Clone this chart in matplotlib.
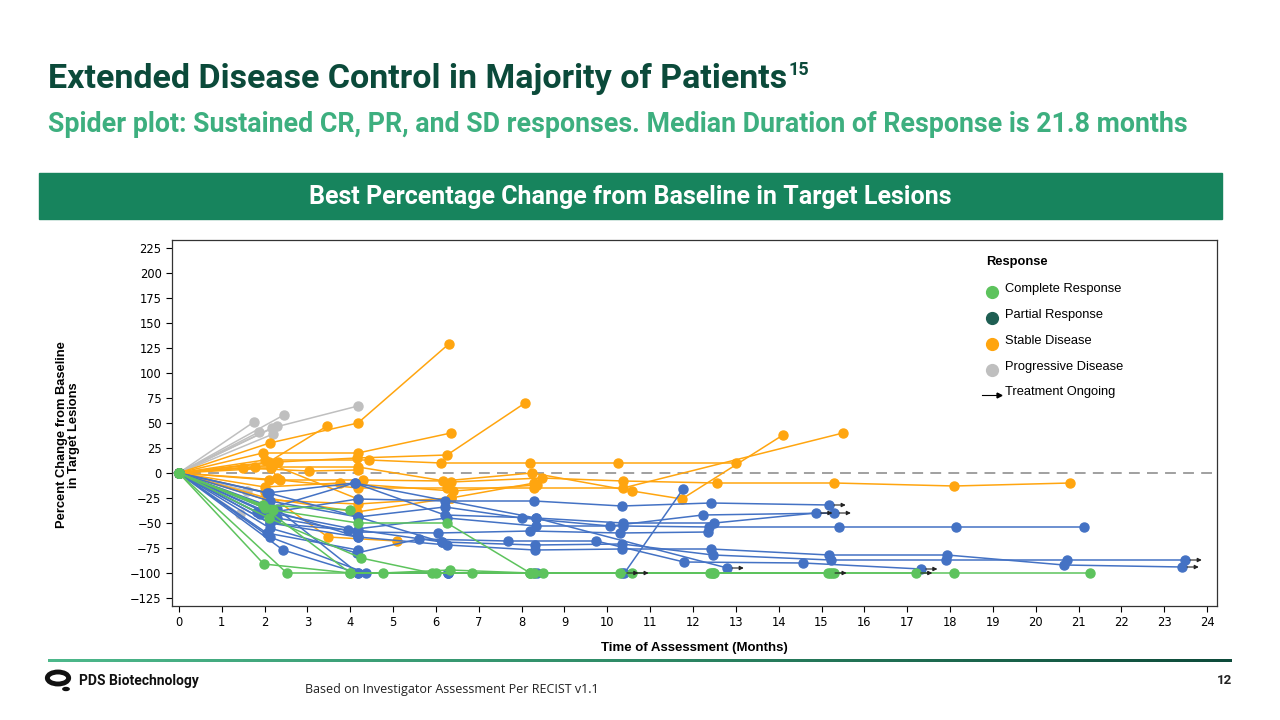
import matplotlib
matplotlib.use("Agg")
import matplotlib.pyplot as plt
import numpy as np
from matplotlib.patches import Rectangle, Circle
from matplotlib.lines import Line2D
from matplotlib.colors import LinearSegmentedColormap

# ---- data (months, % change) ----
cr_t = [[0, 1.98, 4.0, 6.84, 8.5, 10.58],
        [0, 2.52, 4.76, 6.33, 8.2, 12.47, 15.2],
        [0, 1.96, 4.0],
        [0, 2.2, 4.18, 6.26, 8.2, 10.3, 12.5, 15.3],
        [0, 2.1, 4.25, 5.9, 8.3, 12.45, 15.15, 17.2],
        [0, 2.0, 4.0, 6.0, 8.2, 12.4, 15.25, 18.1, 21.27]]
cr_v = [[0, -91, -100, -100, -100, -100],
        [0, -100, -100, -97, -100, -100, -100],
        [0, -32, -37],
        [0, -37, -50, -50, -100, -100, -100, -100],
        [0, -45, -85, -100, -100, -100, -100, -100],
        [0, -35, -100, -100, -100, -100, -100, -100, -100]]
cr_on = [True, True, False, False, True, False]

pr_t = [[0, 2.05, 4.18, 6.14, 8.31, 10.34, 12.47, 15.22, 17.9, 20.73, 23.49],
        [0, 2.12, 4.18, 6.26, 8.31, 10.34, 12.42, 15.18, 17.93, 20.66, 23.42],
        [0, 2.12, 4.15, 5.6, 7.68, 9.74, 11.79, 14.57, 17.32],
        [0, 1.89, 4.18, 6.21, 8.29, 10.34, 12.42, 15.18],
        [0, 2.1, 4.18, 6.21, 8.0, 10.06, 12.23, 15.3],
        [0, 1.82, 4.1, 6.21, 8.33, 10.37, 12.5, 14.87],
        [0, 2.12, 3.95, 6.26, 8.33, 10.37, 12.38, 15.4, 18.14, 21.13],
        [0, 2.43, 4.18, 6.28, 8.3, 10.4, 11.77],
        [0, 2.12, 4.37, 6.28, 8.35, 10.34],
        [0, 2.29, 4.15, 6.05, 8.2, 10.3, 12.36],
        [0, 2.05, 4.1, 8.33, 12.8],
        [0, 2.0, 4.18],
        [0, 2.12, 4.18, 6.14],
        [0, 2.05, 4.18],
        [0, 2.29, 4.18, 6.28]]
pr_v = [[0, -39, -57, -69, -72, -71, -82, -87, -87, -87, -87],
        [0, -50, -64, -72, -77, -76, -76, -82, -82, -92, -94],
        [0, -55, -80, -66, -68, -68, -89, -90, -96],
        [0, -41, -26, -28, -28, -33, -30, -32],
        [0, -20, -44, -34, -45, -53, -42, -40],
        [0, -39, -10, -42, -45, -50, -50, -40],
        [0, -50, -57, -45, -53, -53, -54, -54, -54, -54],
        [0, -77, -100, -100, -100, -100, -16],
        [0, -64, -100, -100, -100, -100],
        [0, -45, -59, -60, -58, -60, -59],
        [0, -20, -10, -45, -95],
        [0, -35, -64],
        [0, -28, -44, -69],
        [0, -60, -77],
        [0, -36, -100, -100]]
pr_on = [True, True, True, True, True, True, False, False, True, False, True,
         False, False, False, False]

sd_t = [[0, 2.12, 4.18, 6.3],
        [0, 2.1, 3.46],
        [0, 1.96, 4.18, 6.35],
        [0, 2.31, 4.15, 6.26, 8.08],
        [0, 2.0, 4.43, 6.12, 8.2, 10.25, 13.0],
        [0, 2.1, 4.3, 6.17, 8.24, 10.58, 11.74, 14.1],
        [0, 1.77, 4.18, 6.35, 8.47, 10.37, 12.56, 15.3, 18.1, 20.8],
        [0, 2.36, 4.18, 6.26, 8.29, 10.37, 15.5],
        [0, 1.5, 3.04, 4.18],
        [0, 2.0, 3.48, 5.09],
        [0, 2.05, 4.18, 6.35, 8.3],
        [0, 2.0, 3.76, 6.4, 8.35],
        [0, 2.05, 4.15, 6.35],
        [0, 2.2, 4.18],
        [0, 2.15, 2.3]]
sd_v = [[0, 30, 50, 129],
        [0, 11, 47],
        [0, 20, 20, 40],
        [0, 11, 15, 18, 70],
        [0, 13, 13, 10, 10, 10, 10],
        [0, -7, -7, -8, 0, -18, -26, 38],
        [0, 6, 6, -9, -5, -8, -10, -10, -13, -10],
        [0, -7, -15, -15, -15, -15, 40],
        [0, 5, 2, 3],
        [0, -19, -64, -68],
        [0, -27, -31, -25, -10],
        [0, -14, -10, -18, -12],
        [0, -25, -39, -25],
        [0, 8, -26],
        [0, 5, -5]]

pd_t = [[0, 1.75], [0, 2.45], [0, 1.87], [0, 2.17, 4.18], [0, 2.29], [0, 2.2],
        [0, 1.6], [0, 1.42]]
pd_v = [[0, 51], [0, 58], [0, 41], [0, 45, 67], [0, 47], [0, 39], [0, -18], [0, -41]]

x_ticks = list(range(0, 25))
y_ticks = list(range(-125, 226, 25))

c_cr = "#5DC35D"
c_pr = "#4472C4"
c_sd = "#FFA50F"
c_pd = "#BFBFBF"
c_pr_legend = "#1E5E52"

W, H = 1280, 720
fig = plt.figure(figsize=(12.8, 7.2), dpi=100)


def fx(px):
    return px / W


def fy(py):
    return 1 - py / H


# titles
t = fig.text(fx(48), fy(79), "Extended Disease Control in Majority of Patients",
             fontsize=24.5, fontweight="bold", color="#0B4A3A", va="center",
             family="Roboto")
fig.canvas.draw()
bb = t.get_window_extent()
fig.text(bb.x1 / W + 0.001, fy(70), "15", fontsize=13, fontweight="bold",
         color="#0B4A3A", va="center", family="Roboto")
fig.text(fx(48), fy(125), "Spider plot: Sustained CR, PR, and SD responses. "
         "Median Duration of Response is 21.8 months", fontsize=19.3,
         fontweight="bold", color="#3DAF7F", va="center", family="Roboto")

fig.patches.append(Rectangle((fx(39), fy(219)), fx(1222 - 39), (219 - 173) / H,
                             transform=fig.transFigure, color="#17845D"))
fig.text(fx(630), fy(197), "Best Percentage Change from Baseline in Target Lesions",
         fontsize=18, fontweight="bold", color="white", ha="center", va="center",
         family="Roboto")

# plot area
ax = fig.add_axes([fx(172), fy(606), fx(1217 - 172), (606 - 240) / H])
ax.set_xlim(-0.16, 24.23)
ax.set_ylim(-133, 233)

ax.axhline(0, color="#999999", lw=1.3, dashes=(6, 4), zorder=1)


def draw_group(ts, vs, col, ongoing=None):
    for i in range(len(ts)):
        ax.plot(ts[i], vs[i], color=col, lw=1.1, marker="o", ms=6.5,
                mec=col, mfc=col, zorder=2)
        if ongoing is not None and ongoing[i]:
            ax.annotate("", xy=(ts[i][-1] + 0.45, vs[i][-1]),
                        xytext=(ts[i][-1] + 0.05, vs[i][-1]),
                        arrowprops=dict(arrowstyle="-|>", color="#222222",
                                        lw=0.8, mutation_scale=6), zorder=3)


draw_group(pd_t, pd_v, c_pd)
draw_group(sd_t, sd_v, c_sd)
draw_group(pr_t, pr_v, c_pr, pr_on)
draw_group(cr_t, cr_v, c_cr, cr_on)

ax.set_xticks(x_ticks)
ax.set_yticks(y_ticks)
ax.tick_params(labelsize=8.3, length=4, width=0.8, direction="out")
for s in ax.spines.values():
    s.set_linewidth(0.9)
    s.set_color("#333333")

fig.text(fx(68), fy(435), "Percent Change from Baseline\nin Target Lesions",
         rotation=90, fontsize=9.3, fontweight="bold", ha="center", va="center",
         family="Liberation Sans", linespacing=1.1)
fig.text(fx(694), fy(648), "Time of Assessment (Months)", fontsize=9.5,
         fontweight="bold", ha="center", va="center", family="Liberation Sans")

# legend, drawn by hand
fig.text(fx(986), fy(262), "Response", fontsize=9.3, fontweight="bold",
         va="center", family="Liberation Sans")
leg_names = ["Complete Response", "Partial Response", "Stable Disease",
             "Progressive Disease"]
leg_cols = [c_cr, c_pr_legend, c_sd, c_pd]
for i in range(4):
    yy = 289 + i * 26
    fig.add_artist(Line2D([fx(992)], [fy(yy + 3)], marker="o", ms=8.5,
                          color=leg_cols[i], lw=0))
    fig.text(fx(1005), fy(yy), leg_names[i], fontsize=9.3, va="center",
             family="Liberation Sans")
fig.add_artist(Line2D([fx(982), fx(1000)], [fy(395), fy(395)], color="black",
                      lw=0.8))
fig.add_artist(Line2D([fx(999)], [fy(395)], marker=">", ms=3.5, color="black",
                      lw=0))
fig.text(fx(1005), fy(392), "Treatment Ongoing", fontsize=9.3, va="center",
         family="Liberation Sans")

# footer
gax = fig.add_axes([fx(48), fy(662), fx(1232 - 48), 3 / H])
grad = np.linspace(0, 1, 256).reshape(1, -1)
cmap = LinearSegmentedColormap.from_list("g", ["#4DB88B", "#2E8A66", "#0D4A3A"])
gax.imshow(grad, aspect="auto", cmap=cmap)
gax.axis("off")

fig.add_artist(Circle((fx(58), fy(678)), 6 / H, transform=fig.transFigure,
                      fc="white", ec="#111111", lw=3.5))
fig.add_artist(Circle((fx(66), fy(689)), 2.2 / H, transform=fig.transFigure,
                      fc="#111111", ec="none"))
fig.text(fx(79), fy(681), "PDS Biotechnology", fontsize=10, fontweight="bold",
         va="center", family="Roboto", color="#111111")
fig.text(fx(305), fy(690), "Based on Investigator Assessment Per RECIST v1.1",
         fontsize=9, va="center", family="Open Sans", color="#222222")
fig.text(fx(1232), fy(680), "12", fontsize=9.5, fontweight="bold", ha="right",
         va="center", family="Roboto", color="#222222")

fig.savefig("out.png", dpi=100)
